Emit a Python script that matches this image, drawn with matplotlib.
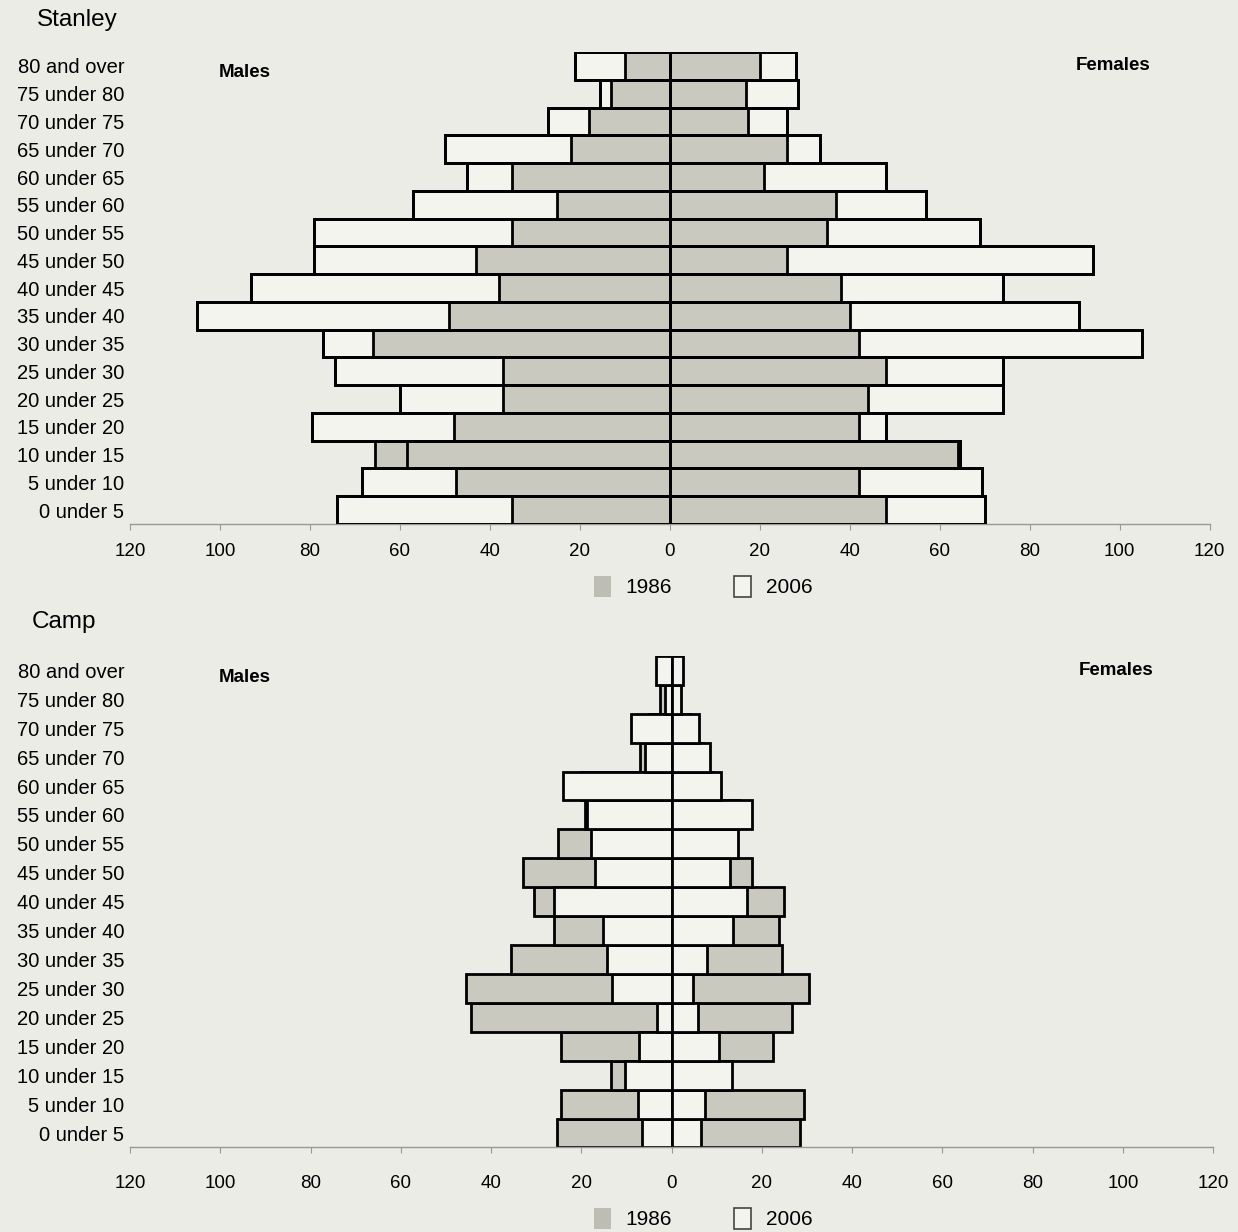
import matplotlib.pyplot as plt
from matplotlib.patches import Patch

plt.rcParams["font.family"] = ["Liberation Sans", "DejaVu Sans"]

age_groups = [
    "0 under 5", "5 under 10", "10 under 15", "15 under 20", "20 under 25",
    "25 under 30", "30 under 35", "35 under 40", "40 under 45", "45 under 50",
    "50 under 55", "55 under 60", "60 under 65", "65 under 70", "70 under 75",
    "75 under 80", "80 and over",
]

# Stanley
stanley_males_1986 = [35, 47.5, 65.5, 48, 37, 37, 66, 49, 38, 43, 35, 25, 35, 22, 18, 13, 10]
stanley_males_2006 = [74, 68.5, 58.5, 79.5, 60, 74.5, 77, 105, 93, 79, 79, 57, 45, 50, 27, 15.5, 21]
stanley_females_1986 = [48, 42, 64, 42, 44, 48, 42, 40, 38, 26, 35, 37, 21, 26, 17.5, 17, 20]
stanley_females_2006 = [70, 69.5, 64.5, 48, 74, 74, 105, 91, 74, 94, 69, 57, 48, 33.5, 26, 28.5, 28]

# Camp
camp_males_1986 = [25.3, 24.4, 13.5, 24.4, 44.4, 45.6, 35.6, 26, 30.4, 33, 25.2, 19.3, 20, 7, 5, 2.5, 1]
camp_males_2006 = [6.6, 7.5, 10.4, 7.2, 3.3, 13.3, 14.3, 15.2, 26, 17, 17.8, 18.7, 24, 6, 9, 1.5, 3.5]
camp_females_1986 = [28.5, 29.3, 12, 22.4, 26.7, 30.4, 24.4, 23.7, 24.8, 17.8, 12, 15, 9, 7, 4, 1.5, 2]
camp_females_2006 = [6.5, 7.5, 13.4, 10.5, 5.8, 4.7, 7.8, 13.7, 16.7, 13, 14.8, 17.8, 11, 8.5, 6, 2, 2.5]

BG = "#ececE6"
GREY = "#c9c9bf"
WHITE = "#f4f4ef"
LW = 2.0


def pyramid(fig, rect, m86, m06, f86, f06, grey_on_top, xpad):
    ax = fig.add_axes(rect)
    ax.set_facecolor(BG)
    y = list(range(len(age_groups)))

    m86n = [-v for v in m86]
    m06n = [-v for v in m06]

    if grey_on_top:
        # 2006 behind, 1986 on top, 2006 outlines redrawn over everything
        ax.barh(y, m06n, height=1.0, color=WHITE, edgecolor="black", linewidth=LW, zorder=1)
        ax.barh(y, f06, height=1.0, color=WHITE, edgecolor="black", linewidth=LW, zorder=1)
        ax.barh(y, m86n, height=1.0, color=GREY, edgecolor="black", linewidth=LW, zorder=2)
        ax.barh(y, f86, height=1.0, color=GREY, edgecolor="black", linewidth=LW, zorder=2)
        ax.barh(y, m06n, height=1.0, fill=False, edgecolor="black", linewidth=LW, zorder=3)
        ax.barh(y, f06, height=1.0, fill=False, edgecolor="black", linewidth=LW, zorder=3)
    else:
        ax.barh(y, m86n, height=1.0, color=GREY, edgecolor="black", linewidth=LW, zorder=1)
        ax.barh(y, f86, height=1.0, color=GREY, edgecolor="black", linewidth=LW, zorder=1)
        ax.barh(y, m06n, height=1.0, color=WHITE, edgecolor="black", linewidth=LW, zorder=2)
        ax.barh(y, f06, height=1.0, color=WHITE, edgecolor="black", linewidth=LW, zorder=2)

    ax.set_xlim(-120, 120)
    ax.set_ylim(-0.5, len(age_groups) - 0.5)

    ticks = list(range(-120, 121, 20))
    ax.set_xticks(ticks)
    ax.set_xticklabels([str(abs(t)) for t in ticks], fontsize=13.5)
    ax.set_yticks(y)
    ax.set_yticklabels(age_groups, fontsize=14.5)
    ax.tick_params(axis="y", length=0, pad=4)
    ax.tick_params(axis="x", length=4, color="#999999", pad=xpad)

    for s in ["top", "right", "left"]:
        ax.spines[s].set_visible(False)
    ax.spines["bottom"].set_color("#999999")
    ax.spines["bottom"].set_linewidth(1.0)

    ax.text(-94.5, len(age_groups) - 1.25, "Males", fontsize=13.5, fontweight="bold",
            ha="center", va="center")
    ax.text(98.5, len(age_groups) - 1, "Females", fontsize=13.5, fontweight="bold",
            ha="center", va="center")
    return ax


fig = plt.figure(figsize=(12.38, 12.32), dpi=100)
fig.patch.set_facecolor(BG)

pyramid(fig, [0.105, 0.5747, 0.872, 0.383],
        stanley_males_1986, stanley_males_2006,
        stanley_females_1986, stanley_females_2006, grey_on_top=True, xpad=10)
pyramid(fig, [0.105, 0.0686, 0.875, 0.399],
        camp_males_1986, camp_males_2006,
        camp_females_1986, camp_females_2006, grey_on_top=False, xpad=16)

fig.text(0.030, 0.984, "Stanley", fontsize=17.5, ha="left", va="center")
fig.text(0.026, 0.495, "Camp", fontsize=17.5, ha="left", va="center")

handles = [Patch(facecolor="#bdbdb3", edgecolor="none", label="1986"),
           Patch(facecolor=WHITE, edgecolor="#444444", linewidth=1.2, label="2006")]
for ypos in (0.524, 0.011):
    fig.legend(handles=handles, loc="center", bbox_to_anchor=(0.568, ypos), ncol=2,
               frameon=False, fontsize=15, handlelength=0.8, handleheight=1.2,
               columnspacing=3.0, handletextpad=0.7)

plt.savefig("out.png", dpi=100, facecolor=BG)
